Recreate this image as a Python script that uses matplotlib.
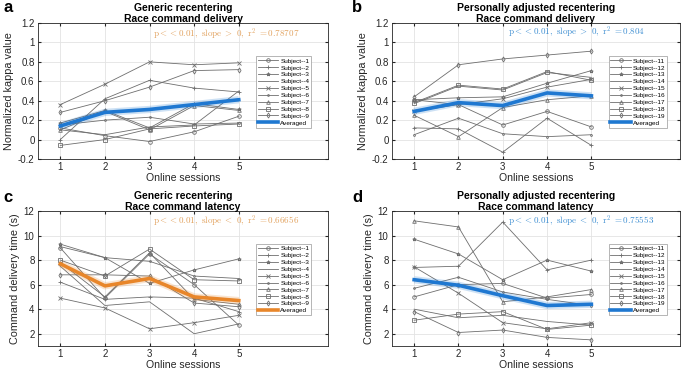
import matplotlib
matplotlib.use("Agg")
import matplotlib.pyplot as plt
import numpy as np

sessions = [1, 2, 3, 4, 5]

labels_a = ["Subject--%d" % i for i in range(1, 10)]
labels_b = ["Subject--%d" % i for i in range(11, 20)]

kappa_generic = [
    [0.12, 0.04, -0.02, 0.08, 0.24],
    [0.00, 0.42, 0.61, 0.53, 0.49],
    [0.17, 0.30, 0.12, 0.37, 0.31],
    [0.10, 0.05, 0.13, 0.15, 0.50],
    [0.36, 0.57, 0.80, 0.77, 0.79],
    [0.15, 0.20, 0.23, 0.16, 0.17],
    [0.10, 0.29, 0.10, 0.35, 0.30],
    [-0.06, 0.00, 0.11, 0.14, 0.16],
    [0.28, 0.40, 0.54, 0.71, 0.72],
]
kappa_generic_avg = [0.14, 0.28, 0.31, 0.36, 0.41]

kappa_personal = [
    [0.41, 0.36, 0.15, 0.29, 0.13],
    [0.12, 0.11, -0.13, 0.22, -0.06],
    [0.41, 0.43, 0.44, 0.58, 0.71],
    [0.37, 0.55, 0.51, 0.69, 0.64],
    [0.29, 0.36, 0.42, 0.54, 0.62],
    [0.05, 0.22, 0.06, 0.03, 0.05],
    [0.25, 0.03, 0.33, 0.41, 0.45],
    [0.38, 0.56, 0.52, 0.70, 0.61],
    [0.44, 0.77, 0.83, 0.87, 0.91],
]
kappa_personal_avg = [0.29, 0.38, 0.35, 0.48, 0.45]

latency_generic = [
    [9.0, 4.9, 8.5, 6.0, 2.7],
    [6.2, 4.8, 5.0, 4.9, 3.8],
    [9.3, 8.2, 6.1, 7.2, 8.1],
    [7.5, 4.3, 4.6, 2.0, 2.8],
    [4.9, 4.1, 2.4, 2.9, 3.5],
    [9.1, 8.2, 7.9, 6.7, 6.5],
    [7.8, 5.0, 8.6, 4.8, 4.4],
    [8.0, 6.7, 8.9, 6.4, 6.3],
    [6.8, 6.8, 6.7, 4.5, 4.2],
]
latency_generic_avg = [7.7, 5.9, 6.5, 5.0, 4.7]

latency_personal = [
    [5.0, 6.0, 6.1, 4.9, 5.2],
    [7.4, 7.5, 11.1, 7.2, 8.0],
    [9.7, 8.5, 6.4, 8.0, 7.1],
    [4.0, 3.3, 3.5, 3.0, 2.7],
    [7.45, 5.3, 2.9, 2.4, 2.9],
    [5.7, 6.6, 5.4, 4.8, 4.3],
    [11.2, 10.7, 4.6, 5.0, 5.6],
    [3.1, 3.6, 3.8, 2.35, 2.7],
    [3.8, 2.1, 2.3, 1.7, 1.5],
]
latency_personal_avg = [6.4, 5.95, 5.1, 4.3, 4.4]

markers = ['o', '+', '*', '', 'x', '.', '^', 's', 'd']

BLUE = '#1f78d1'
ORANGE = '#e8862a'
BLUE_TXT = '#3f8fd2'
ORANGE_TXT = '#e2a25e'

plt.rcParams['mathtext.fontset'] = 'cm'
plt.rcParams['font.family'] = ['Liberation Sans', 'DejaVu Sans']

fig = plt.figure(figsize=(6.83, 3.69), dpi=100)
W, H = 683.0, 369.0

def make_ax(l, r, t, b):
    return fig.add_axes([l / W, 1 - b / H, (r - l) / W, (b - t) / H])

panels = [
    dict(box=(38, 328, 23, 159), data=kappa_generic, avg=kappa_generic_avg, labels=labels_a,
         color=ORANGE_TXT, avgc=BLUE, title="Generic recentering\nRace command delivery",
         ylabel="Normalized kappa value", ylim=(-0.2, 1.2), yticks=np.arange(-0.2, 1.21, 0.2),
         txt=r"$\mathrm{p{<}{<}0.01,\ slope\ >\ 0,\ r^2\ =0.78707}$", tpos=(0.397, 0.92),
         letter='a', lpos=(3, 8)),
    dict(box=(392, 680, 23, 159), data=kappa_personal, avg=kappa_personal_avg, labels=labels_b,
         color=BLUE_TXT, avgc=BLUE, title="Personally adjusted recentering\nRace command delivery",
         ylabel="Normalized kappa value", ylim=(-0.2, 1.2), yticks=np.arange(-0.2, 1.21, 0.2),
         txt=r"$\mathrm{p{<}{<}0.01,\ slope\ >\ 0,\ r^2\ =0.804}$", tpos=(0.403, 0.93),
         letter='b', lpos=(352, 8)),
    dict(box=(38, 328, 211, 346), data=latency_generic, avg=latency_generic_avg, labels=labels_a,
         color=ORANGE_TXT, avgc=ORANGE, title="Generic recentering\nRace command latency",
         ylabel="Command delivery time (s)", ylim=(1, 12), yticks=np.arange(2, 13, 2),
         txt=r"$\mathrm{p{<}{<}0.01,\ slope\ <\ 0,\ r^2\ =0.66656}$", tpos=(0.397, 0.92),
         letter='c', lpos=(3, 197)),
    dict(box=(392, 680, 211, 346), data=latency_personal, avg=latency_personal_avg, labels=labels_b,
         color=BLUE_TXT, avgc=BLUE, title="Personally adjusted recentering\nRace command latency",
         ylabel="Command delivery time (s)", ylim=(1, 12), yticks=np.arange(2, 13, 2),
         txt=r"$\mathrm{p{<}{<}0.01,\ slope\ <\ 0,\ r^2\ =0.75553}$", tpos=(0.403, 0.92),
         letter='d', lpos=(352, 197)),
]

for p in panels:
    l, r, t, b = p['box']
    ax = make_ax(l, r, t, b)
    for series, lab, mk in zip(p['data'], p['labels'], markers):
        ax.plot(sessions, series, color='#6e6e6e', lw=0.6, marker=mk if mk else None,
                ms=2.6, mfc='none', mew=0.6, label=lab)
    ax.plot(sessions, p['avg'], color=p['avgc'], lw=5.2, alpha=0.22, solid_capstyle='butt')
    ax.plot(sessions, p['avg'], color=p['avgc'], lw=2.6, label='Averaged')
    ax.set_xlim(0.5, 7.0)
    ax.set_ylim(*p['ylim'])
    ax.set_xticks(sessions)
    ax.set_yticks(p['yticks'])
    ax.set_yticklabels(['%g' % round(v, 1) for v in p['yticks']])
    ax.grid(True, color='#e3e3e3', lw=0.6)
    ax.set_axisbelow(True)
    ax.tick_params(direction='in', length=2.5, labelsize=7, colors='#262626', pad=2.5)
    ax.tick_params(top=True, right=True, labeltop=False, labelright=False)
    for s in ax.spines.values():
        s.set_color('#262626')
        s.set_linewidth(0.6)
    ax.set_xlabel("Online sessions", fontsize=7.6, color='#262626', labelpad=0.5)
    ax.set_ylabel(p['ylabel'], fontsize=7.8, color='#262626', labelpad=3)
    ax.set_title(p['title'], fontsize=7.5, fontweight='bold', linespacing=1.1, pad=1)
    ax.text(p['tpos'][0], p['tpos'][1], p['txt'], transform=ax.transAxes,
            color=p['color'], fontsize=6.5, ha='left', va='center')
    leg = ax.legend(loc='upper left', bbox_to_anchor=(0.752, 0.755), fontsize=4.6,
                    frameon=True, fancybox=False, edgecolor='#999999', framealpha=1,
                    handlelength=3.2, labelspacing=0.22, borderpad=0.3, handletextpad=0.3,
                    borderaxespad=0)
    leg.get_frame().set_linewidth(0.5)
    fig.text(p['lpos'][0] / W, 1 - p['lpos'][1] / H, p['letter'], fontsize=12,
             fontweight='bold', ha='left', va='center')

fig.savefig("out.png", dpi=100)
